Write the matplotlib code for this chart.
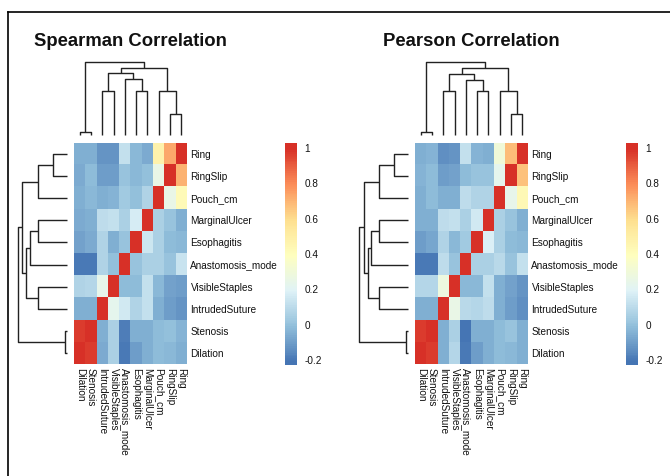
import numpy as np
import matplotlib.pyplot as plt
from matplotlib.colors import LinearSegmentedColormap, Normalize
from matplotlib.lines import Line2D

plt.rcParams['font.family'] = ['Liberation Sans', 'DejaVu Sans']
plt.rcParams['axes.unicode_minus'] = False

# column order of the clustered heatmap (rows are the reverse)
col_names = ['Dilation', 'Stenosis', 'IntrudedSuture', 'VisibleStaples', 'Anastomosis_mode',
             'Esophagitis', 'MarginalUlcer', 'Pouch_cm', 'RingSlip', 'Ring']
row_names = col_names[::-1]

# rows top->bottom: Ring ... Dilation ; cols left->right: Dilation ... Ring
spearman = np.array([
    [-0.06, -0.05, -0.13, -0.13, 0.12, -0.03, -0.07, 0.47, 0.72, 1.00],
    [-0.07, -0.02, -0.11, -0.10, 0.00, -0.03, -0.01, 0.25, 1.00, 0.70],
    [-0.05, -0.03, -0.05, -0.04, 0.03, -0.01, 0.07, 1.00, 0.25, 0.42],
    [-0.07, -0.06, 0.10, 0.12, 0.05, 0.16, 1.00, 0.05, 0.00, -0.05],
    [-0.09, -0.07, 0.07, -0.05, 0.01, 1.00, 0.14, 0.05, -0.02, -0.03],
    [-0.20, -0.20, 0.07, -0.01, 1.00, 0.01, 0.05, 0.05, 0.00, 0.13],
    [0.07, 0.08, 0.24, 1.00, -0.02, -0.02, 0.12, -0.03, -0.09, -0.10],
    [-0.06, -0.05, 1.00, 0.22, 0.15, 0.07, 0.11, -0.05, -0.10, -0.13],
    [0.97, 1.00, -0.06, 0.06, -0.19, -0.06, -0.06, -0.02, -0.01, -0.04],
    [1.00, 0.97, -0.07, 0.06, -0.20, -0.10, -0.05, -0.02, -0.03, -0.05],
])

pearson = np.array([
    [-0.06, -0.04, -0.14, -0.13, 0.12, -0.04, -0.05, 0.30, 0.68, 1.00],
    [-0.04, -0.02, -0.10, -0.09, -0.02, 0.00, 0.00, 0.23, 1.00, 0.67],
    [-0.05, -0.02, -0.05, -0.06, 0.10, 0.07, 0.07, 1.00, 0.24, 0.43],
    [-0.06, -0.06, 0.10, 0.12, 0.05, 0.15, 1.00, 0.05, 0.01, -0.06],
    [-0.10, -0.08, 0.07, -0.03, 0.03, 1.00, 0.18, 0.05, -0.02, -0.03],
    [-0.20, -0.20, 0.10, 0.00, 1.00, 0.06, 0.05, 0.09, 0.00, 0.12],
    [0.08, 0.08, 0.27, 1.00, -0.03, -0.03, 0.12, -0.06, -0.09, -0.13],
    [-0.06, -0.05, 1.00, 0.25, 0.09, 0.08, 0.10, -0.05, -0.11, -0.14],
    [0.97, 1.00, -0.05, 0.06, -0.21, -0.06, -0.06, -0.02, 0.00, -0.06],
    [1.00, 0.97, -0.05, 0.08, -0.20, -0.11, -0.05, -0.02, -0.03, -0.05],
])

# merges (leaf/node a, leaf/node b, height); leaves numbered by column order, new nodes 10..
spearman_tree = [(0, 1, 0.045), (8, 9, 0.28), (5, 6, 0.60), (2, 3, 0.60), (7, 11, 0.60),
                 (4, 12, 0.76), (13, 15, 0.84), (16, 14, 0.92), (10, 17, 1.0)]
pearson_tree = [(0, 1, 0.045), (8, 9, 0.28), (5, 6, 0.60), (2, 3, 0.60), (7, 11, 0.60),
                (4, 12, 0.75), (13, 15, 0.83), (16, 14, 0.91), (10, 17, 1.0)]

cbar_ticks = [-0.2, 0, 0.2, 0.4, 0.6, 0.8, 1]
cbar_labels = ['-0.2', '0', '0.2', '0.4', '0.6', '0.8', '1']
palette = ['#4575B4', '#91BFDB', '#E0F3F8', '#FFFFBF', '#FEE090', '#FC8D59', '#D73027']

cmap = LinearSegmentedColormap.from_list('rdylbu', palette, N=100)
norm = Normalize(vmin=-0.22, vmax=1.0)

W, H = 670, 476
fig = plt.figure(figsize=(W / 100, H / 100), dpi=100)


def box(x0, y0, x1, y1):
    return [x0 / W, 1 - y1 / H, (x1 - x0) / W, (y1 - y0) / H]


def dendro(ax, tree, n, side):
    pos = {i: float(i) for i in range(n)}
    hgt = {i: 0.0 for i in range(n)}
    for k, (a, b, h) in enumerate(tree):
        xs = [pos[a], pos[a], pos[b], pos[b]]
        ys = [hgt[a], h, h, hgt[b]]
        if side == 'top':
            ax.plot(xs, ys, color='#222222', lw=1.0, clip_on=False, solid_capstyle='butt')
        else:
            ax.plot(ys, [n - 1 - x for x in xs], color='#222222', lw=1.0, clip_on=False,
                    solid_capstyle='butt')
        pos[n + k] = (pos[a] + pos[b]) / 2
        hgt[n + k] = h
    ax.axis('off')


def panel(dx, mat, tree, title):
    n = len(col_names)
    hx0, hx1, hy0, hy1 = 74 + dx, 187 + dx, 143, 364

    ax = fig.add_axes(box(hx0, hy0, hx1, hy1))
    ax.imshow(mat, cmap=cmap, norm=norm, aspect='auto', interpolation='nearest')
    for s in ax.spines.values():
        s.set_visible(False)
    ax.yaxis.tick_right()
    ax.set_yticks(range(n), row_names, fontsize=7.2, color='#111111')
    ax.set_xticks(range(n), col_names, rotation=-90, fontsize=7.2, color='#111111')
    ax.tick_params(axis='y', length=0, pad=2.5)
    ax.tick_params(axis='x', length=0, pad=3)

    axt = fig.add_axes(box(hx0, 61.7, hx1, 135))
    axt.set_xlim(-0.5, n - 0.5)
    axt.set_ylim(0, 1)
    dendro(axt, tree, n, 'top')

    axl = fig.add_axes(box(18.3 + dx, hy0, 66.7 + dx, hy1))
    axl.set_ylim(n - 0.5, -0.5)
    axl.set_xlim(1, 0)
    dendro(axl, tree, n, 'left')

    axc = fig.add_axes(box(285 + dx, 143, 297 + dx, 365))
    lo, hi = -0.228, 1.028
    grad = np.linspace(lo, hi, 200).reshape(-1, 1)
    axc.imshow(grad, cmap=cmap, norm=norm, aspect='auto', origin='lower',
               extent=[0, 1, lo, hi], interpolation='bilinear')
    axc.set_ylim(lo, hi)
    axc.set_xticks([])
    axc.yaxis.tick_right()
    axc.set_yticks(cbar_ticks, cbar_labels, fontsize=7.2, color='#111111')
    axc.tick_params(axis='y', length=0, pad=5.5)
    for s in axc.spines.values():
        s.set_visible(False)

    fig.text((hx0 + hx1) / 2 / W, 1 - 46 / H, title, ha='center', va='baseline',
             fontsize=13.3, fontweight='bold', color='#111111')


panel(0, spearman, spearman_tree, 'Spearman Correlation')
panel(341, pearson, pearson_tree, 'Pearson Correlation')

# frame lines (left and top)
fig.add_artist(Line2D([8 / W, 8 / W], [0, 1 - 12 / H], transform=fig.transFigure,
                      color='black', lw=1.2))
fig.add_artist(Line2D([8 / W, 1], [1 - 12 / H, 1 - 12 / H], transform=fig.transFigure,
                      color='black', lw=1.2))

fig.savefig('out.png', dpi=100)
